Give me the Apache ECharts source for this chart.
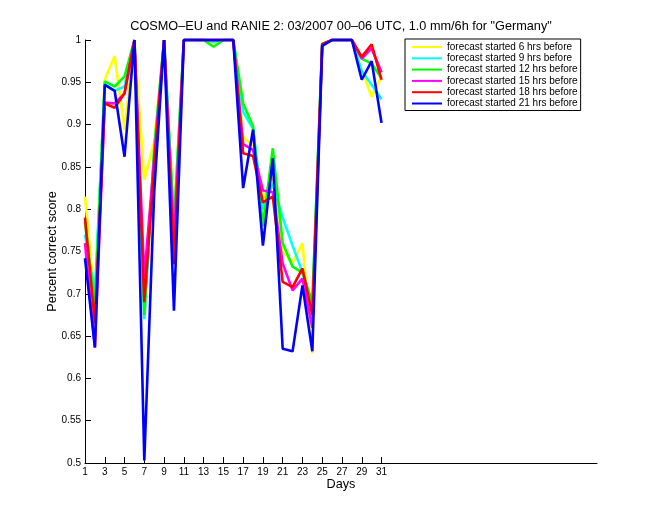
<!DOCTYPE html>
<html>
<head>
<meta charset="utf-8">
<script src="https://cdn.jsdelivr.net/npm/echarts@6/dist/echarts.min.js"></script>
<style>html,body{margin:0;padding:0;background:#fff;}#c{width:660px;height:520px;}</style>
</head>
<body>
<div id="c"></div>
<script>
const days = [1,2,3,4,5,6,7,8,9,10,11,12,13,14,15,16,17,18,19,20,21,22,23,24,25,26,27,28,29,30,31];
const xTickLabels = [1,3,5,7,9,11,13,15,17,19,21,23,25,27,29,31];
const seriesNames = ['forecast started 6 hrs before','forecast started 9 hrs before','forecast started 12 hrs before','forecast started 15 hrs before','forecast started 18 hrs before','forecast started 21 hrs before'];
const seriesColors = ['#ffff00','#00ffff','#00ff00','#ff00ff','#ff0000','#0000ff'];
const hrs6  = [0.815,0.69,0.953,0.981,0.894,1,0.835,0.88,1,0.79,1,1,1,0.997,1,1,0.885,0.875,0.81,0.84,0.75,0.737,0.76,0.63,0.995,1,1,1,0.965,0.933,0.957];
const hrs9  = [0.77,0.70,0.948,0.94,0.945,1,0.67,0.87,1,0.78,1,1,1,0.998,1,1,0.915,0.895,0.80,0.83,0.79,0.757,0.725,0.685,0.995,1,1,1,0.963,0.947,0.93];
const hrs12 = [0.785,0.685,0.951,0.945,0.957,1,0.675,0.87,1,0.78,1,1,1,0.992,1,1,0.925,0.898,0.78,0.872,0.76,0.732,0.725,0.69,0.995,1,1,1,0.978,0.972,0.955];
const hrs15 = [0.76,0.636,0.926,0.925,0.937,1,0.72,0.86,1,0.76,1,1,1,1,1,1,0.877,0.87,0.822,0.82,0.736,0.704,0.718,0.66,0.995,1,1,1,0.978,0.99,0.962];
const hrs18 = [0.79,0.665,0.925,0.92,0.937,1,0.69,0.85,1,0.735,1,1,1,1,1,1,0.866,0.863,0.808,0.815,0.714,0.708,0.73,0.675,0.995,1,1,1,0.98,0.995,0.953];
const hrs21 = [0.742,0.637,0.947,0.94,0.862,1,0.503,0.82,1,0.68,1,1,1,1,1,1,0.825,0.894,0.757,0.86,0.635,0.632,0.71,0.632,0.993,1,1,1,0.953,0.975,0.902];
const allValues = [hrs6,hrs9,hrs12,hrs15,hrs18,hrs21];

const font = "'Liberation Sans', Arial, Helvetica, sans-serif";
const chart = echarts.init(document.getElementById('c'));
chart.setOption({
  animation: false,
  backgroundColor: '#fff',
  title: {
    text: 'COSMO\u2013EU and RANIE 2: 03/2007 00\u201306 UTC, 1.0 mm/6h for "Germany"',
    left: 336, top: 15, textAlign: 'center',
    textStyle: {fontFamily: font, fontSize: 12.7, fontWeight: 'normal', color: '#000'}
  },
  legend: {
    orient: 'vertical', left: 405, top: 39,
    backgroundColor: '#fff', borderColor: '#000', borderWidth: 1,
    padding: [3, 3, 2, 6], itemWidth: 30, itemHeight: 12, itemGap: 1.3, itemTextGap: 2,
    itemStyle: {opacity: 0},
    textStyle: {fontFamily: font, fontSize: 10, color: '#000'},
    data: seriesNames
  },
  grid: {left: 85, right: 63, top: 40, bottom: 57, containLabel: false},
  xAxis: {
    type: 'value', min: 1, max: 52.8,
    name: 'Days', nameLocation: 'middle', nameGap: 15, nameMoveOverlap: false,
    nameTextStyle: {fontFamily: font, fontSize: 12.7, color: '#000'},
    axisLine: {lineStyle: {color: '#000', width: 1}},
    axisTick: {inside: true, length: 6, lineStyle: {color: '#000'}, customValues: xTickLabels},
    axisLabel: {fontFamily: font, fontSize: 10, color: '#000', margin: 4, customValues: xTickLabels},
    splitLine: {show: false}
  },
  yAxis: {
    type: 'value', min: 0.5, max: 1, interval: 0.05,
    name: 'Percent correct score', nameLocation: 'middle', nameGap: 26, nameMoveOverlap: false,
    nameTextStyle: {fontFamily: font, fontSize: 12.7, color: '#000'},
    axisLine: {show: true, lineStyle: {color: '#000', width: 1}},
    axisTick: {show: true, inside: true, length: 6, lineStyle: {color: '#000'}},
    axisLabel: {fontFamily: font, fontSize: 10, color: '#000', margin: 4,
      formatter: v => String(Math.round(v * 100) / 100)},
    splitLine: {show: false}
  },
  series: seriesNames.map((n, i) => ({
    name: n, type: 'line', symbol: 'none', clip: false,
    color: seriesColors[i],
    lineStyle: {color: seriesColors[i], width: 2.6},
    data: days.map((d, j) => [d, allValues[i][j]])
  }))
});
</script>
</body>
</html>
